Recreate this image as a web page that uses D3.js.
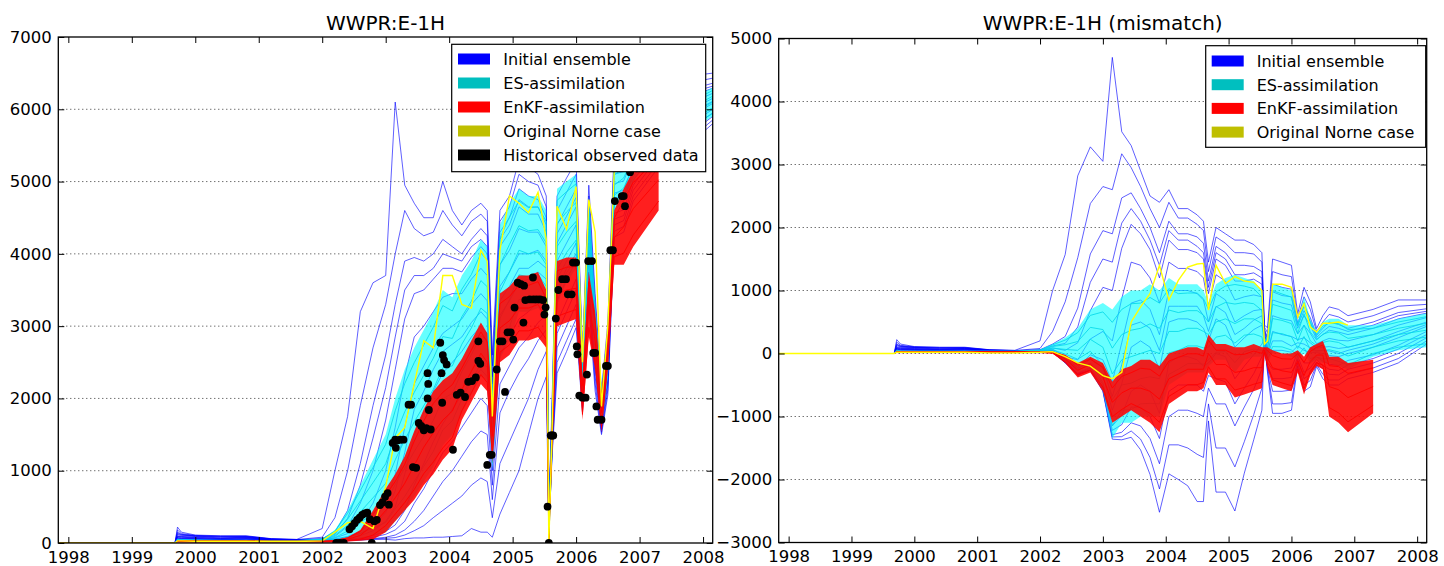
<!DOCTYPE html>
<html><head><meta charset="utf-8">
<script src="https://cdn.jsdelivr.net/npm/d3@7"></script>
<style>
body{margin:0;background:#fff;}
svg{display:block;font-family:"DejaVu Sans",sans-serif;}
</style></head><body>
<svg id="chart" width="1444" height="566"></svg>
<script>
// ---------------- DATA ----------------
const years = [1997.84,1999.68,1999.72,1999.78,2000.0,2000.4,2000.8,2001.2,2001.6,2002.0,2002.2,2002.4,2002.6,2002.8,2003.0,2003.15,2003.3,2003.45,2003.6,2003.75,2003.9,2004.05,2004.2,2004.35,2004.5,2004.6,2004.68,2004.8,2004.95,2005.1,2005.25,2005.4,2005.53,2005.57,2005.62,2005.7,2005.85,2006.0,2006.1,2006.2,2006.3,2006.4,2006.5,2006.6,2006.75,2006.9,2007.3,2007.7,2008.15];
const yearTicks = [1998,1999,2000,2001,2002,2003,2004,2005,2006,2007,2008];
const rateTicks = [0,1000,2000,3000,4000,5000,6000,7000];
const misTicks = [-3000,-2000,-1000,0,1000,2000,3000,4000,5000];
const legendLabels = ["Initial ensemble","ES-assimilation","EnKF-assimilation","Original Norne case","Historical observed data"];

// Historical observed water rate (left panel dots)
const obsYears = [2002.22,2002.28,2002.34,2002.43,2002.47,2002.51,2002.55,2002.59,2002.63,2002.67,2002.71,2002.75,2002.78,2002.82,2002.86,2002.91,2002.95,2002.99,2003.03,2003.05,2003.11,2003.15,2003.16,2003.19,2003.23,2003.28,2003.36,2003.40,2003.43,2003.48,2003.52,2003.56,2003.60,2003.64,2003.66,2003.66,2003.67,2003.68,2003.71,2003.86,2003.88,2003.89,2003.90,2003.92,2003.96,2004.06,2004.12,2004.18,2004.25,2004.30,2004.36,2004.42,2004.46,2004.46,2004.49,2004.60,2004.64,2004.67,2004.75,2004.80,2004.84,2004.88,2004.92,2004.97,2005.01,2005.03,2005.08,2005.13,2005.17,2005.18,2005.20,2005.27,2005.32,2005.33,2005.38,2005.43,2005.48,2005.50,2005.52,2005.55,2005.57,2005.60,2005.62,2005.64,2005.68,2005.72,2005.78,2005.84,2005.87,2005.93,2005.95,2006.00,2006.01,2006.02,2006.05,2006.10,2006.15,2006.17,2006.19,2006.25,2006.27,2006.30,2006.32,2006.34,2006.40,2006.47,2006.50,2006.54,2006.58,2006.61,2006.72,2006.75,2006.77,2006.85];
const obsRates = [0,0,0,190,230,273,320,350,390,410,420,330,0,300,320,525,560,640,690,530,1385,1430,1317,1420,1430,1430,1913,1913,1050,1040,1660,1620,1560,1590,2350,2000,2200,1840,1570,2770,2350,1940,2600,2530,2470,1290,2050,2080,2020,2230,2240,2290,2790,2520,2480,1080,1220,1220,2400,2790,2790,2090,2915,2915,2814,3257,3600,3580,3050,3560,3360,3370,3673,3370,3370,3370,3360,3160,3260,503,0,1487,1487,1487,3105,3500,3650,3650,3440,3440,3880,3880,2720,2610,2040,2010,2010,2330,3900,3900,2630,2630,1890,1705,1705,2450,2450,4050,4050,4730,4800,4800,4660,5130];

// Left panel: WWPR simulated rates
const initialRate = [
 [0,0,220,150,110,100,100,60,50, 200,1000,1750,3200,3600,3700,6100,4950, 4700,4500,4500,5000,4600,4400,4600,4700,4600,2600,4600,4800,5300,5200,5100,4800, 450,1900, 4800,5050,5280,2650,4950,3450,2100,3050,5470,5500,5730,6200,6450,6500],
 [0,0,180,130,105,95,95,58,48, 80,350,1000,1900,2700,3300,4000,4600, 4350,4250,4300,4600,4400,4250,4450,4550,4450,2450,4450,4650,5100,5000,4950,4650, 420,1820, 4600,4850,5100,2580,4800,3330,2050,2950,5350,5380,5630,6100,6350,6430],
 [0,0,150,120,100,90,90,55,45, 60,150,450,1100,1900,2600,3300,3900, 3950,3900,4000,4200,4100,4000,4200,4350,4250,2300,4300,4500,4900,4800,4750,4500, 390,1740, 4400,4650,4900,2500,4650,3200,1990,2850,5230,5260,5530,6000,6250,6360],
 [0,0,135,115,98,85,88,54,44, 55,120,340,800,1450,2150,2850,3500, 3700,3700,3800,4000,3950,3900,4100,4200,4100,2200,4200,4400,4750,4650,4650,4400, 375,1700, 4280,4520,4780,2460,4580,3140,1960,2800,5160,5200,5480,5950,6200,6320],
 [0,0,120,110,95,80,85,52,42, 50,90,230,550,1000,1700,2400,3100, 3450,3500,3650,3800,3800,3750,3950,4100,4000,2100,4100,4300,4650,4550,4550,4300, 360,1660, 4150,4400,4650,2420,4500,3080,1930,2750,5100,5140,5430,5900,6150,6290],
 [0,0,100,100,90,70,80,50,40, 45,70,130,280,550,1000,1600,2300, 2850,3000,3200,3400,3450,3450,3650,3800,3700,1900,3850,4050,4350,4300,4300,4100, 330,1580, 3900,4150,4400,2330,4350,2950,1860,2650,4970,5010,5330,5800,6050,6220],
 [0,0,90,90,80,65,75,48,38, 40,55,90,160,300,550,950,1600, 2200,2450,2700,2900,3000,3100,3300,3450,3350,1650,3550,3750,4000,4000,4050,3900, 300,1500, 3650,3900,4150,2240,4150,2800,1790,2550,4840,4880,5230,5700,5950,6150],
 [0,0,85,85,75,62,72,46,37, 38,50,78,130,230,420,720,1250, 1850,2100,2400,2650,2750,2850,3050,3200,3100,1500,3350,3550,3800,3800,3900,3800, 285,1460, 3500,3800,4000,2190,4050,2720,1750,2500,4770,4800,5180,5650,5900,6110],
 [0,0,80,80,70,60,70,45,36, 35,45,65,100,170,300,500,950, 1500,1800,2100,2350,2500,2650,2850,3000,2900,1350,3150,3350,3600,3650,3750,3650, 270,1420, 3350,3650,3900,2140,3950,2650,1720,2450,4700,4750,5130,5600,5850,6080],
 [0,0,70,70,65,50,60,42,34, 30,35,50,70,100,160,250,450, 800,1100,1400,1650,1850,2050,2250,2400,2300,1000,2600,2850,3100,3200,3350,3350, 230,1340, 3050,3350,3650,2040,3750,2480,1650,2330,4560,4610,5020,5480,5730,6000],
 [0,0,65,65,60,48,58,40,33, 29,32,45,60,80,120,180,300, 550,750,1000,1250,1400,1600,1800,2000,1900,800,2200,2450,2700,2850,3050,3150, 210,1300, 2900,3200,3500,1980,3600,2400,1610,2260,4480,4530,4950,5420,5670,5950],
 [0,0,60,60,55,45,55,38,32, 28,30,40,50,60,80,110,180, 300,450,650,850,1000,1200,1400,1550,1500,600,1800,2100,2350,2550,2800,2950, 190,1260, 2700,3000,3300,1930,3500,2300,1570,2200,4400,4460,4880,5350,5600,5900],
 [0,0,55,55,52,42,52,36,31, 26,28,35,45,55,65,75,110, 170,240,350,450,550,650,800,900,850,350,1100,1400,1700,2000,2400,2650, 170,1220, 2500,2800,3100,1870,3400,2200,1530,2120,4310,4380,4800,5270,5520,5850],
 [0,0,50,50,50,40,50,35,30, 25,25,30,40,50,50,40,60, 70,70,80,80,90,100,200,150,150,80,400,700,1000,1500,2000,2300, 150,1180, 2350,2650,2980,1820,3300,2100,1500,2050,4230,4300,4730,5200,5450,5800]
];
const esRateLow = [0,0,20,20,20,20,20,20,20, 25,30,40,60,100,150,300,450, 650,850,1050,1350,1500,1800,2050,2300,2250,1000,2550,2800,3200,3200,3250,3100, 0,1200, 3300,3600,3800,1950,3850,2500,1600,2300,4600,4700,5000,5450,5650,5900];
const esRateHigh = [0,0,60,50,45,40,40,35,35, 60,180,450,800,1150,1500,2000,2400, 2700,2950,3200,3500,3400,3700,3900,4200,4100,2100,4400,4700,4900,4800,4800,4600, 300,1800, 4900,5000,5100,2650,4800,3300,2150,3000,5300,5400,5700,5950,6100,6300];
const esRate = [
 [0,0,56,47,42,38,38,33,33, 56,165,410,725,1045,1365,1830,2205, 2495,2740,2985,3285,3210,3510,3715,4010,3915,1990,4215,4510,4730,4640,4645,4450, 270,1740, 4740,4860,4970,2580,4705,3220,2095,2930,5230,5330,5630,5900,6055,6260],
 [0,0,48,41,37,34,34,30,30, 49,135,330,580,835,1095,1490,1815, 2085,2320,2555,2855,2830,3130,3345,3630,3545,1770,3845,4130,4390,4320,4335,4150, 210,1620, 4420,4580,4710,2440,4515,3060,1985,2790,5090,5190,5490,5800,5965,6180],
 [0,0,40,35,32,30,30,27,27, 42,105,245,430,625,825,1150,1425, 1675,1900,2125,2425,2450,2750,2975,3250,3175,1550,3475,3750,4050,4000,4025,3850, 150,1500, 4100,4300,4450,2300,4325,2900,1875,2650,4950,5050,5350,5700,5875,6100],
 [0,0,32,29,27,26,26,24,24, 35,75,165,280,415,555,810,1035, 1265,1480,1695,1995,2070,2370,2605,2870,2805,1330,3105,3370,3710,3680,3715,3550, 90,1380, 3780,4020,4190,2160,4135,2740,1765,2510,4810,4910,5210,5600,5785,6020],
 [0,0,24,23,22,22,22,21,21, 28,45,80,135,205,285,470,645, 855,1060,1265,1565,1690,1990,2235,2490,2435,1110,2735,2990,3370,3360,3405,3250, 30,1260, 3460,3740,3930,2020,3945,2580,1655,2370,4670,4770,5070,5500,5695,5940]
];
const enkfRateLow = [0,0,10,10,10,10,10,10,10, 10,10,20,30,50,150,300,450, 600,800,950,1150,1300,1700,1950,2200,2100,1100,2500,2600,2800,2800,2850,2700, 0,1250, 3000,3050,3100,1700,2850,2400,1530,2400,3850,3850,4100,4600,null,null];
const enkfRateHigh = [0,0,40,40,35,35,35,30,30, 30,40,80,180,450,750,950,1200, 1550,1850,2100,2250,2350,2550,2800,3050,2900,1850,3450,3550,3700,3700,3750,3500, 100,1650, 3900,3950,3950,2250,3750,3200,2080,3000,4600,4900,5150,5450,null,null];
const enkfRate = [
 [0,0,35,35,31,31,31,27,27, 27,35,71,158,390,660,850,1090, 1410,1690,1930,2085,2190,2420,2670,2920,2780,1740,3310,3410,3565,3565,3615,3380, 85,1590, 3765,3815,3825,2170,3615,3080,2000,2910,4490,4740,4990,5320,null,null],
 [0,0,25,25,22,22,22,20,20, 20,25,50,105,250,450,625,825, 1075,1325,1525,1700,1825,2125,2375,2625,2500,1475,2975,3075,3250,3250,3300,3100, 50,1450, 3450,3500,3525,1975,3300,2800,1805,2700,4225,4375,4625,5025,null,null],
 [0,0,15,15,14,14,14,13,13, 13,15,29,53,110,240,400,560, 740,960,1120,1315,1460,1830,2080,2330,2220,1210,2640,2740,2935,2935,2985,2820, 15,1310, 3135,3185,3230,1780,2985,2520,1610,2490,3960,4010,4260,4730,null,null]
];
const norneRate = [0,0,30,30,25,25,25,20,20, 30,150,280,300,200,780,1450,1600, 2200,2800,2700,3700,3700,3300,3250,4050,3900,1750,4050,4800,4700,4570,4850,4200, 0,1500, 4660,4340,4930,2500,4750,4300,1890,3000,5130,5300,5500,null,null,null];

// Right panel: WWPR mismatch (simulated - observed)
const initialMis = [
 [0,0,220,150,110,100,100,60,50, 200,1000,1570,2820,3280,3050,4700,3520, 3300,2900,2500,2400,2600,2300,2300,2200,2100,1450,2000,1900,1800,1800,1730,1600, 450,410, 1500,1450,1400,630,1050,820,395,600,740,700,600,700,850,850],
 [0,0,180,130,105,95,95,58,48, 80,350,820,1520,2380,2650,2600,3170, 2950,2650,2300,2000,2400,2150,2150,2050,1950,1300,1850,1750,1600,1600,1580,1450, 420,330, 1300,1250,1220,560,900,700,345,500,620,580,500,600,750,780],
 [0,0,150,120,100,90,90,55,45, 60,150,270,720,1580,1950,1900,2470, 2550,2300,2000,1600,2100,1900,1900,1850,1750,1150,1700,1600,1400,1400,1380,1300, 390,250, 1100,1050,1020,480,750,570,285,400,500,460,400,500,650,710],
 [0,0,135,115,98,85,88,54,44, 55,120,160,420,1130,1500,1450,2070, 2300,2100,1800,1400,1950,1800,1800,1700,1600,1050,1600,1500,1250,1250,1280,1200, 375,210, 980,920,900,440,680,510,255,350,430,400,350,450,600,670],
 [0,0,120,110,95,80,85,52,42, 50,90,50,170,680,1050,1000,1670, 2050,1900,1650,1200,1800,1650,1650,1600,1500,950,1500,1400,1150,1150,1180,1100, 360,170, 850,800,770,400,600,450,225,300,370,340,300,400,550,640],
 [0,0,100,100,90,70,80,50,40, 45,70,-50,-100,230,350,200,870, 1450,1400,1200,800,1450,1350,1350,1300,1200,750,1250,1150,850,900,930,900, 330,90, 600,550,520,310,450,320,155,200,240,210,200,300,450,570],
 [0,0,90,90,80,65,75,48,38, 40,55,-90,-220,-20,-100,-450,170, 800,850,700,300,1000,1000,1000,950,850,500,950,850,500,600,680,700, 300,10, 350,300,270,220,250,170,85,100,110,80,100,200,350,500],
 [0,0,85,85,75,62,72,46,37, 38,50,-102,-250,-90,-230,-680,-180, 450,500,400,50,750,750,750,750,600,350,750,650,300,400,530,600, 285,-30, 200,200,120,170,150,90,45,50,40,0,50,150,300,460],
 [0,0,80,80,70,60,70,45,36, 35,45,-115,-280,-150,-350,-900,-480, 100,200,100,-250,500,550,550,500,400,200,550,450,100,250,380,450, 270,-70, 50,50,20,120,50,20,15,0,-30,-50,0,100,250,430],
 [0,0,70,70,65,50,60,42,34, 30,35,-130,-310,-220,-490,-1150,-980, -600,-500,-600,-950,-150,-50,-50,-100,-200,-150,0,-50,-400,-200,-20,150, 230,-150, -250,-250,-230,20,-150,-150,-55,-120,-170,-190,-110,-20,130,350],
 [0,0,65,65,60,48,58,40,33, 29,32,-135,-320,-240,-530,-1220,-1130, -850,-850,-1000,-1350,-600,-500,-500,-500,-600,-350,-400,-450,-800,-550,-320,-50, 210,-190, -400,-400,-380,-40,-300,-230,-95,-190,-250,-270,-180,-80,70,300],
 [0,0,60,60,55,45,55,38,32, 28,30,-140,-330,-260,-570,-1290,-1250, -1100,-1150,-1350,-1750,-1000,-900,-900,-950,-1000,-550,-800,-800,-1150,-850,-570,-250, 190,-230, -600,-600,-580,-90,-400,-330,-135,-250,-330,-340,-250,-150,0,250],
 [0,0,55,55,52,42,52,36,31, 26,28,-145,-335,-265,-585,-1325,-1320, -1230,-1360,-1650,-2150,-1450,-1450,-1500,-1600,-1650,-800,-1500,-1500,-1800,-1400,-970,-550, 170,-270, -800,-800,-780,-150,-500,-430,-175,-330,-420,-420,-330,-230,-80,200],
 [0,0,50,50,50,40,50,35,30, 25,25,-150,-340,-270,-600,-1360,-1370, -1330,-1530,-1920,-2520,-1910,-2000,-2100,-2350,-2350,-1070,-2200,-2200,-2500,-1900,-1370,-900, 150,-310, -950,-950,-900,-200,-600,-530,-205,-400,-500,-500,-400,-300,-150,150]
];
const esMisLow = [0,0,20,20,20,20,20,20,20, 20,20,-120,-300,-250,-600,-1350,-1100, -1100,-1000,-1000,-1000,-500,-400,-300,-300,-300,-200,-100,-100,-300,-100,-50,-50, 0,-150, 0,0,-50,-100,0,-150,-100,-150,-150,-200,-250,-50,50,100];
const esMisHigh = [0,0,60,40,40,40,40,40,40, 60,150,250,400,700,800,700,900, 1000,1000,1100,1000,1200,1100,1100,1100,1000,800,1100,1200,1250,1200,1150,1000, 200,300, 1110,1050,1000,500,900,550,350,500,550,550,450,450,550,640];
const esMis = [
 [0,0,56,38,38,38,38,38,38, 56,137,213,330,605,660,495,700, 790,800,890,800,1030,950,960,960,870,700,980,1070,1095,1070,1030,895, 180,255, 1000,945,895,440,810,480,305,435,480,475,380,400,500,585],
 [0,0,48,34,34,34,34,34,34, 48,111,139,190,415,380,85,300, 370,400,470,400,690,650,680,680,610,500,740,810,785,810,790,685, 140,165, 780,735,685,320,630,340,215,305,340,325,240,300,400,480],
 [0,0,40,30,30,30,30,30,30, 40,85,65,50,225,100,-325,-100, -50,0,50,0,350,350,400,400,350,300,500,550,475,550,550,475, 100,75, 555,525,475,200,450,200,125,175,200,175,100,200,300,370],
 [0,0,32,26,26,26,26,26,26, 32,59,-9,-90,35,-180,-735,-500, -470,-400,-370,-400,10,50,120,120,90,100,260,290,165,290,310,265, 60,-15, 330,315,265,80,270,60,35,45,60,25,-40,100,200,260],
 [0,0,24,22,22,22,22,22,22, 24,33,-83,-230,-155,-460,-1145,-900, -890,-800,-790,-800,-330,-250,-160,-160,-170,-100,20,30,-145,30,70,55, 20,-105, 110,105,55,-40,90,-80,-55,-85,-80,-125,-180,0,100,155]
];
const enkfMisLow = [0,0,10,10,10,10,10,10,10, 10,0,-150,-380,-300,-600,-1100,-1000, -900,-1000,-1100,-1250,-800,-700,-600,-600,-550,-300,-500,-500,-700,-650,-600,-550, 0,-250, -500,-550,-600,-300,-650,-350,-200,-250,-1000,-1100,-1250,-950,null,null];
const enkfMisHigh = [0,0,40,35,35,35,35,35,35, 30,30,-20,-150,-50,-150,-450,-250, -200,-100,-100,-200,0,50,100,100,50,300,150,150,100,100,150,100, 100,100, 50,0,0,50,-50,100,150,200,-50,-50,-150,-100,null,null];
const enkfMis = [
 [0,0,35,31,31,31,31,31,31, 27,25,-40,-185,-88,-218,-548,-363, -305,-235,-250,-358,-120,-63,-5,-5,-40,210,53,53,-20,-13,38,3, 85,48, -33,-83,-90,-3,-140,33,98,133,-193,-208,-315,-228,null,null],
 [0,0,25,22,22,22,22,22,22, 20,15,-85,-265,-175,-375,-775,-625, -550,-550,-600,-725,-400,-325,-250,-250,-250,0,-175,-175,-300,-275,-225,-225, 50,-75, -225,-275,-300,-125,-350,-125,-25,-25,-525,-575,-700,-525,null,null],
 [0,0,15,14,14,14,14,14,14, 13,5,-130,-345,-263,-533,-1003,-888, -795,-865,-950,-1093,-680,-588,-495,-495,-460,-210,-403,-403,-580,-538,-488,-453, 15,-198, -418,-468,-510,-248,-560,-283,-148,-183,-858,-943,-1085,-823,null,null]
];
const norneMis = [0,0,20,20,20,20,20,10,10, 20,30,-50,-150,-200,-350,-400,-300, 500,740,950,1400,850,1160,1370,1420,1430,690,1400,1110,1220,1150,1130,1000, 150,200, 1100,1100,1050,580,790,420,340,480,480,500,450,null,null,null];

// ---------------- DRAWING ----------------
const svg = d3.select("#chart");
const xDomain = [1997.842, 2008.152];
const colors = {initial:"#0000ff", es:"#00ffff", enkf:"#ff0000", norne:"#ffff00"};
const legendColors = ["#0000ff","#00bfbf","#ff0000","#bfbf00","#000000"];

function drawPanel(p) {
  const x = d3.scaleLinear().domain(xDomain).range([p.left, p.right]);
  const y = d3.scaleLinear().domain(p.yDomain).range([p.bottom, p.top]);
  const g = svg.append("g");
  const clipId = "clip-" + p.id;
  g.append("clipPath").attr("id", clipId).append("rect")
    .attr("x", p.left).attr("y", p.top).attr("width", p.right - p.left).attr("height", p.bottom - p.top);

  g.append("g").selectAll("line")
    .data(p.yTicks.filter(v => v !== p.yDomain[0] && v !== p.yDomain[1]))
    .join("line")
    .attr("x1", p.left).attr("x2", p.right)
    .attr("y1", d => y(d)).attr("y2", d => y(d))
    .attr("stroke", "#000").attr("stroke-width", 0.8).attr("stroke-dasharray", "1,3");

  const plot = g.append("g").attr("clip-path", `url(#${clipId})`);
  const line = d3.line().defined(d => d[1] != null).x(d => x(d[0])).y(d => y(d[1]));
  const area = d3.area().defined(d => d[1] != null && d[2] != null)
    .x(d => x(d[0])).y0(d => y(d[1])).y1(d => y(d[2]));
  const series = arr => years.map((t, i) => [t, arr[i]]);
  const band = (lo, hi) => years.map((t, i) => [t, lo[i], hi[i]]);

  plot.append("g").selectAll("path").data(p.initial).join("path")
    .attr("d", m => line(series(m))).attr("fill", "none")
    .attr("stroke", colors.initial).attr("stroke-width", 0.9).attr("stroke-opacity", 0.7);

  plot.append("path").attr("d", area(band(p.esLow, p.esHigh)))
    .attr("fill", colors.es).attr("fill-opacity", 0.6);
  plot.append("g").selectAll("path").data(p.es).join("path")
    .attr("d", m => line(series(m))).attr("fill", "none")
    .attr("stroke", "#00d8e8").attr("stroke-width", 0.9).attr("stroke-opacity", 0.9);

  plot.append("path").attr("d", area(band(p.enkfLow, p.enkfHigh)))
    .attr("fill", colors.enkf).attr("fill-opacity", 0.88);
  plot.append("g").selectAll("path").data(p.enkf).join("path")
    .attr("d", m => line(series(m))).attr("fill", "none")
    .attr("stroke", colors.enkf).attr("stroke-width", 0.9);

  plot.append("path").attr("d", line(series(p.norne))).attr("fill", "none")
    .attr("stroke", colors.norne).attr("stroke-width", 1.4);

  if (p.obs) {
    plot.append("g").selectAll("circle").data(obsYears.map((t, i) => [t, obsRates[i]])).join("circle")
      .attr("cx", d => x(d[0])).attr("cy", d => y(d[1])).attr("r", 3.9).attr("fill", "#000");
  }

  const fs = 16.5;
  const styleAxis = s => { s.select(".domain").remove(); s.attr("font-size", fs).attr("font-family", "DejaVu Sans");
    s.selectAll("text").attr("fill", "#000"); s.selectAll("line").attr("stroke", "#000"); };
  g.append("g").attr("transform", `translate(0,${p.bottom})`)
    .call(d3.axisBottom(x).tickValues(yearTicks).tickFormat(d3.format("d")).tickSizeInner(-6).tickSizeOuter(0).tickPadding(8))
    .call(styleAxis);
  g.append("g").attr("transform", `translate(0,${p.top})`)
    .call(d3.axisTop(x).tickValues(yearTicks).tickFormat("").tickSizeInner(-6).tickSizeOuter(0))
    .call(styleAxis);
  g.append("g").attr("transform", `translate(${p.left},0)`)
    .call(d3.axisLeft(y).tickValues(p.yTicks).tickFormat(d3.format("d")).tickSizeInner(-6).tickSizeOuter(0).tickPadding(6.5))
    .call(styleAxis);
  g.append("g").attr("transform", `translate(${p.right},0)`)
    .call(d3.axisRight(y).tickValues(p.yTicks).tickFormat("").tickSizeInner(-6).tickSizeOuter(0))
    .call(styleAxis);

  g.append("rect").attr("x", p.left).attr("y", p.top)
    .attr("width", p.right - p.left).attr("height", p.bottom - p.top)
    .attr("fill", "none").attr("stroke", "#000").attr("stroke-width", 1.3);

  g.append("text").attr("x", (p.left + p.right) / 2).attr("y", 30)
    .attr("text-anchor", "middle").attr("font-size", 20).attr("fill", "#000").text(p.title);

  const L = p.legend;
  const lg = g.append("g");
  lg.append("rect").attr("x", L.x).attr("y", L.y).attr("width", L.w).attr("height", L.h)
    .attr("fill", "#fff").attr("stroke", "#000").attr("stroke-width", 1.2);
  legendLabels.slice(0, L.n).forEach((lab, i) => {
    const cy = L.row0 + i * L.step;
    lg.append("rect").attr("x", L.px).attr("y", cy - 5.5).attr("width", 32).attr("height", 11)
      .attr("fill", legendColors[i]);
    lg.append("text").attr("x", L.tx).attr("y", cy + 6).attr("font-size", 16).attr("fill", "#000").text(lab);
  });
}

drawPanel({
  id: "rate", left: 58.3, right: 712.7, top: 37, bottom: 543,
  yDomain: [0, 7000], yTicks: rateTicks, title: "WWPR:E-1H",
  initial: initialRate, esLow: esRateLow, esHigh: esRateHigh, es: esRate,
  enkfLow: enkfRateLow, enkfHigh: enkfRateHigh, enkf: enkfRate, norne: norneRate, obs: true,
  legend: {x: 451.7, y: 44.3, w: 254, h: 127.4, n: 5, row0: 59, step: 24, px: 458, tx: 503.3}
});
drawPanel({
  id: "mis", left: 778.7, right: 1426.7, top: 38.5, bottom: 542.5,
  yDomain: [-3000, 5000], yTicks: misTicks, title: "WWPR:E-1H (mismatch)",
  initial: initialMis, esLow: esMisLow, esHigh: esMisHigh, es: esMis,
  enkfLow: enkfMisLow, enkfHigh: enkfMisHigh, enkf: enkfMis, norne: norneMis, obs: false,
  legend: {x: 1205.7, y: 45.7, w: 220, h: 101.6, n: 4, row0: 61, step: 23.7, px: 1211.7, tx: 1256.7}
});
</script>
</body></html>
